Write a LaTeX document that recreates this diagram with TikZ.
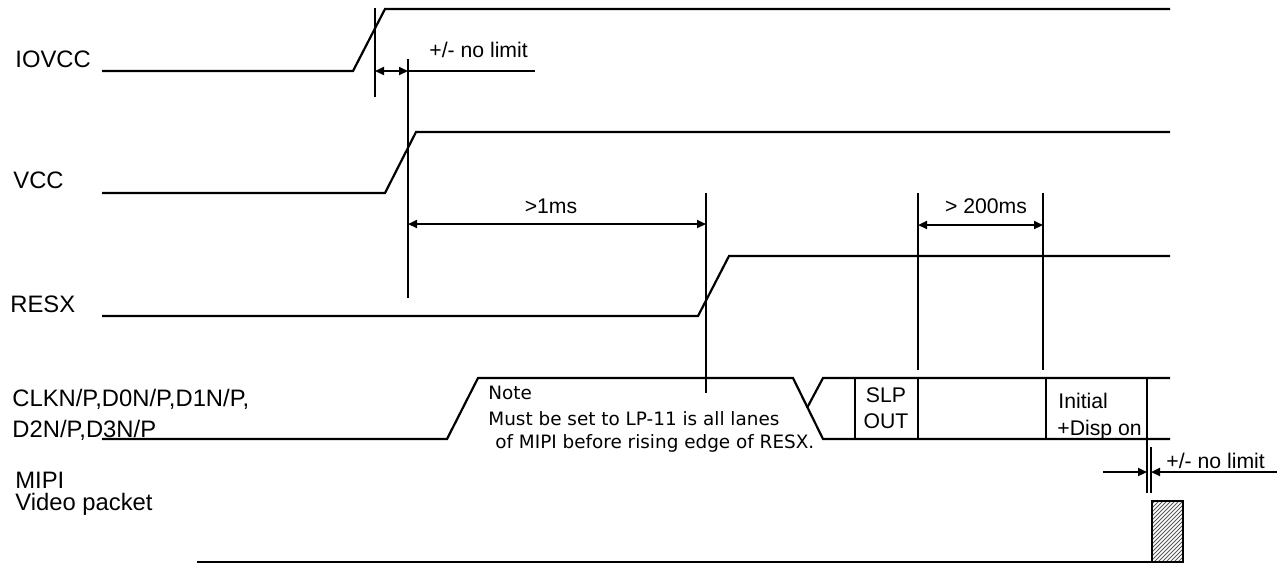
\documentclass[tikz,border=0pt]{standalone}
\usepackage{fontspec}
\setmainfont{Liberation Sans}
\newfontfamily\notefont{DejaVu Sans}
\usetikzlibrary{arrows.meta}
\begin{document}
\begin{tikzpicture}[x=0.5pt,y=-0.5pt,
  sig/.style={line width=1.1pt, line join=miter},
  tick/.style={line width=1pt},
  dim/.style={line width=1pt,{Triangle[length=4.5pt,width=4pt]}-{Triangle[length=4.5pt,width=4pt]}},
  rdim/.style={line width=1pt,-{Triangle[length=4.5pt,width=4pt]}},
  lbl/.style={font=\fontsize{11.9}{14}\selectfont, inner sep=0pt, anchor=base west},
  sm/.style={font=\fontsize{10.6}{13}\selectfont, inner sep=0pt, anchor=base west},
  note/.style={font=\notefont\fontsize{9.2}{11}\selectfont, inner sep=0pt, anchor=base west},
  hatch/.style={gray!70!black, line width=0.4pt}]
\useasboundingbox (0,0) rectangle (1288,564);

% labels
\node[lbl] (lIOVCC) at (15,67) {IOVCC};
\node[lbl] (lVCC) at (13,188) {VCC};
\node[lbl] (lRESX) at (10,312) {RESX};
\node[lbl] (lCLK1) at (12,406) {CLKN/P,D0N/P,D1N/P,};
\node[lbl] (lCLK2) at (12,437) {D2N/P,D3N/P};
\node[lbl] (lMIPI) at (15,488) {MIPI};
\node[lbl] (lVid) at (15,510) {Video packet};

% IOVCC
\draw[sig] (102,71) -- (353,71) -- (385,9) -- (1170,9);
% VCC
\draw[sig] (102,193) -- (385,193) -- (416,132) -- (1170,132);
% RESX
\draw[sig] (102,316) -- (698,316) -- (729,256) -- (1170,256);
% CLKN etc
\draw[sig] (102,439) -- (447,439) -- (478,378) -- (793,378) -- (823,439) -- (1170,439);
\draw[sig] (807,408) -- (823,378) -- (1170,378);
\draw[tick] (855,378) -- (855,439);
\draw[tick] (918,378) -- (918,439);
\draw[tick] (1046,378) -- (1046,439);
\draw[tick] (1147,378) -- (1147,493);
\draw[tick] (1151,447) -- (1151,493);
% MIPI
\draw[sig] (197,562) -- (1152,562);
\begin{scope}
\clip (1152,501) rectangle (1183,562);
\foreach \i in {-70,-66,...,40} \draw[hatch] (1152+\i,562) -- ++(70,-70);
\end{scope}
\draw[sig] (1152,501) rectangle (1183,562);

% timing marks
\draw[tick] (375,8) -- (375,97);
\draw[tick] (408,59) -- (408,298);
\draw[tick] (706,193) -- (706,393);
\draw[tick] (918,193) -- (918,370);
\draw[tick] (1043,193) -- (1043,370);

% dimension arrows
\coordinate (a1) at (375,71);
\coordinate (a2) at (408,71);
\draw[dim] (a1) -- (a2);
\draw[tick] (a2) -- (535,71);
\node[sm] (nl1) at (429,57) {+/- no limit};

\coordinate (b1) at (408,224);
\coordinate (b2) at (706,224);
\draw[dim] (b1) -- (b2);
\node[sm,anchor=base] (ms1) at (551,213) {>1ms};

\coordinate (c1) at (918,225);
\coordinate (c2) at (1043,225);
\draw[dim] (c1) -- (c2);
\node[sm,anchor=base] (ms200) at (986,213) {> 200ms};

\coordinate (d0) at (1103,472);
\coordinate (d1) at (1147,472);
\coordinate (d2) at (1151,472);
\coordinate (d3) at (1277,472);
\draw[rdim] (d0) -- (d1);
\draw[rdim] (d3) -- (d2);
\node[sm] (nl2) at (1166,468) {+/- no limit};

% box texts
\node[sm,anchor=base] (slp) at (886,402) {SLP};
\node[sm,anchor=base] (out) at (886,428) {OUT};
\node[sm] (ini) at (1058,408) {Initial};
\node[sm] (disp) at (1057,435) {+Disp on};

% note
\node[note] (n1) at (488,399) {Note};
\node[note] (n2) at (488,425) {Must be set to LP-11 is all lanes};
\node[note] (n3) at (495,448) {of MIPI before rising edge of RESX.};
\end{tikzpicture}
\end{document}
